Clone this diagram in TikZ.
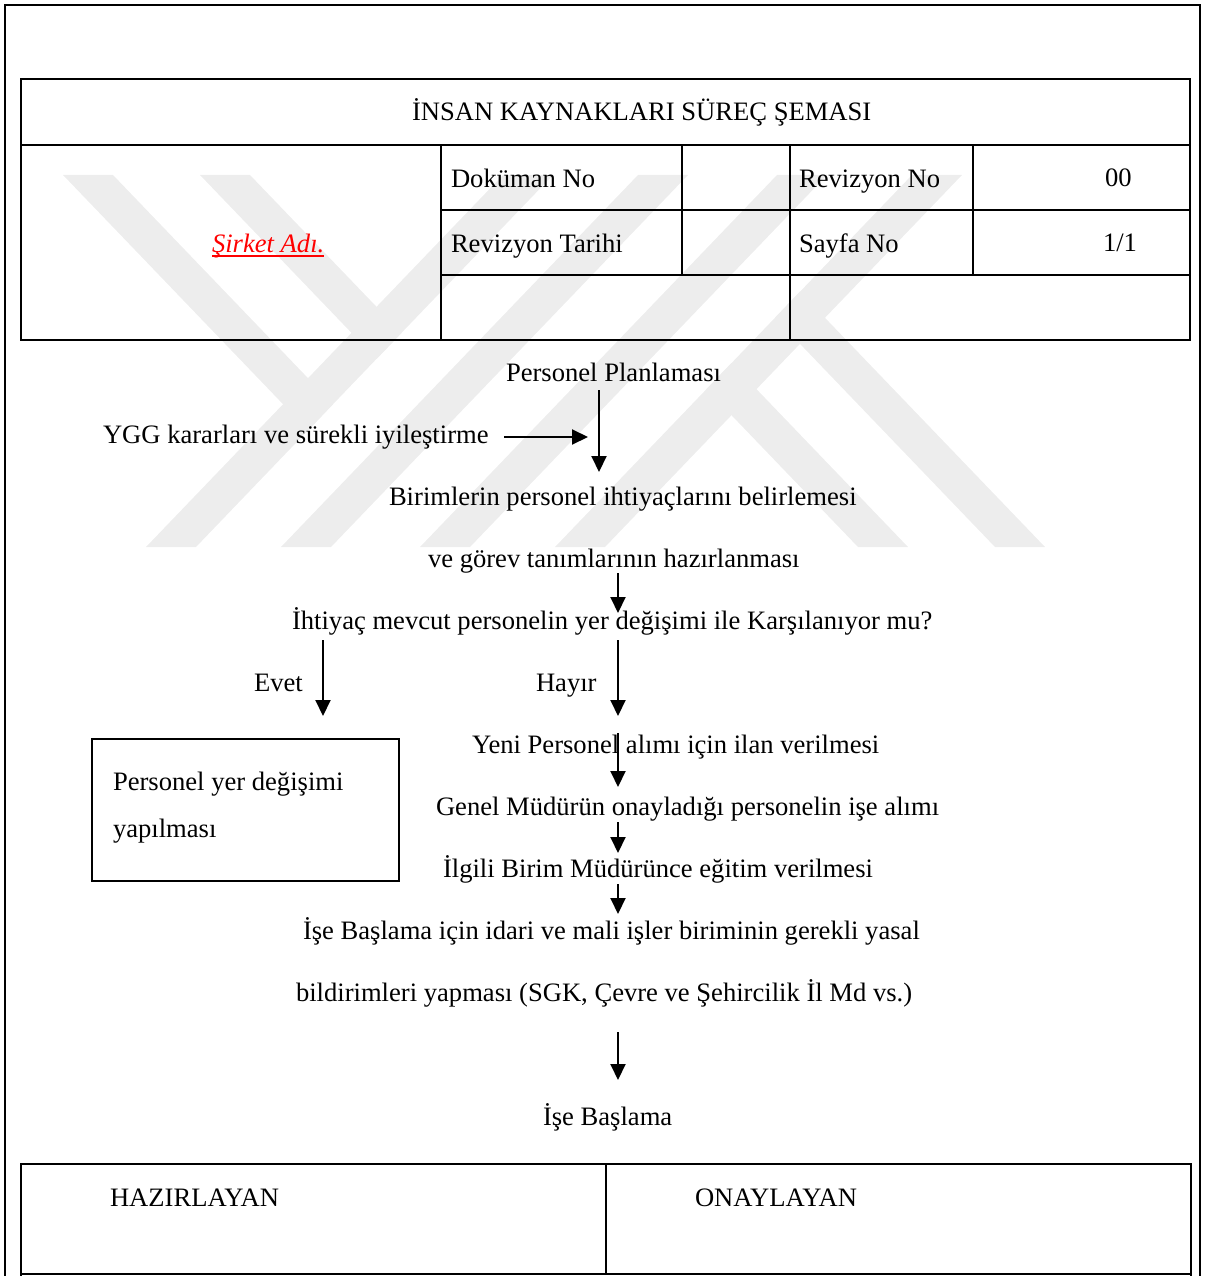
\documentclass[tikz,border=0pt]{standalone}
\usepackage{fontspec}
\setmainfont{Liberation Serif}
\usetikzlibrary{arrows.meta}
\begin{document}
\begin{tikzpicture}[x=1pt,y=-1pt,
  every node/.style={inner sep=0pt, outer sep=0pt, anchor=base west},
  txt/.style={font=\fontsize{26.6}{32}\selectfont},
  tbl/.style={line width=2.2pt},
  thin/.style={line width=1.3pt},
  arr/.style={line width=2pt, -{Triangle[width=15pt,length=16pt]}},
  wm/.style={fill=black!7, draw=none}]
\useasboundingbox (0,0) rectangle (1206,1276);

% ---- background emblem (light grey diagonal bands) ----
\fill[wm] (146,547) -- (196,547) -- (553,175) -- (503,175) -- cycle;
\fill[wm] (281,547) -- (331,547) -- (688,175) -- (638,175) -- cycle;
\fill[wm] (420,547) -- (470,547) -- (827,175) -- (777,175) -- cycle;
\fill[wm] (555,547) -- (605,547) -- (962,175) -- (912,175) -- cycle;
\fill[wm] (63,175) -- (113,175) -- (333,404.2) -- (308.1,430.3) -- cycle;
\fill[wm] (200,175) -- (250,175) -- (401.6,332.9) -- (376.5,358.9) -- cycle;
\fill[wm] (1045,547) -- (995,547) -- (775,317.8) -- (799.9,291.7) -- cycle;
\fill[wm] (908,547) -- (858,547) -- (706.4,389.1) -- (731.5,363.1) -- cycle;

% ---- page frame ----
\draw[line width=2pt] (5,1290) -- (5,5) -- (1200,5) -- (1200,1290);

% ---- header table ----
\draw[tbl] (21,79) rectangle (1190,340);
\draw[tbl] (21,145) -- (1190,145);
\draw[tbl] (441,210) -- (1190,210);
\draw[tbl] (441,275) -- (1190,275);
\draw[tbl] (441,145) -- (441,340);
\draw[tbl] (790,145) -- (790,340);
\draw[tbl] (682,145) -- (682,275);
\draw[tbl] (973,145) -- (973,275);

\node[txt] (title) at (412,121) {İNSAN KAYNAKLARI SÜREÇ ŞEMASI};
\node[txt] (dokno) at (451,187) {Doküman No};
\node[txt] (revtar) at (451,252) {Revizyon Tarihi};
\node[txt] (revno) at (799,187) {Revizyon No};
\node[txt] (sayfa) at (799,252) {Sayfa No};
\node[txt] (revval) at (1105,186) {00};
\node[txt] (sayval) at (1103,251) {1/1};
\node[txt, text=red, font=\fontsize{26.6}{32}\selectfont\itshape] (sirket) at (212,252) {Şirket Adı.};
\draw[red, line width=1.6pt] ([yshift=-4pt]sirket.base west) -- ([yshift=-4pt]sirket.base east);

% ---- flow texts ----
\node[txt] (plan) at (506,381) {Personel Planlaması};
\node[txt] (ygg) at (103,443) {YGG kararları ve sürekli iyileştirme};
\node[txt] (birim1) at (389,505) {Birimlerin personel ihtiyaçlarını belirlemesi};
\node[txt] (birim2) at (428,567) {ve görev tanımlarının hazırlanması};
\node[txt] (soru) at (292,629) {İhtiyaç mevcut personelin yer değişimi ile Karşılanıyor mu?};
\node[txt] (evet) at (254,691) {Evet};
\node[txt] (hayir) at (536,691) {Hayır};
\node[txt] (ilan) at (472,753) {Yeni Personel alımı için ilan verilmesi};
\node[txt] (alim) at (436,815) {Genel Müdürün onayladığı personelin işe alımı};
\node[txt] (egitim) at (443,877) {İlgili Birim Müdürünce eğitim verilmesi};
\node[txt] (yasal1) at (303,939) {İşe Başlama için idari ve mali işler biriminin gerekli yasal};
\node[txt] (yasal2) at (296,1001) {bildirimleri yapması (SGK, Çevre ve Şehircilik İl Md vs.)};
\node[txt] (basla) at (543,1125) {İşe Başlama};

% relocation box
\draw[thin] (92,739) rectangle (399,881);
\node[txt] (yer1) at (113,790) {Personel yer değişimi};
\node[txt] (yer2) at (113,837) {yapılması};

% ---- connector end points ----
\coordinate (h0) at (504,437);  \coordinate (h1) at (588,437);
\coordinate (v0) at (599,390);  \coordinate (v1) at (599,472);
\coordinate (g0) at (618,573);  \coordinate (g1) at (618,613);
\coordinate (e0) at (323,640);  \coordinate (e1) at (323,716);
\coordinate (n0) at (618,640);  \coordinate (n1) at (618,716);
\coordinate (i0) at (618,733);  \coordinate (i1) at (618,787);
\coordinate (a0) at (618,822);  \coordinate (a1) at (618,853);
\coordinate (b0) at (618,884);  \coordinate (b1) at (618,914);
\coordinate (s0) at (618,1032); \coordinate (s1) at (618,1080);

\draw[arr] (h0) -- (h1);
\draw[arr] (v0) -- (v1);
\draw[arr] (g0) -- (g1);
\draw[arr] (e0) -- (e1);
\draw[arr] (n0) -- (n1);
\draw[arr] (i0) -- (i1);
\draw[arr] (a0) -- (a1);
\draw[arr] (b0) -- (b1);
\draw[arr] (s0) -- (s1);

% ---- signature table ----
\draw[line width=2.4pt] (21,1290) -- (21,1164) -- (1191,1164) -- (1191,1290);
\draw[line width=2.4pt] (21,1274) -- (1191,1274);
\draw[line width=1.2pt] (606,1164) -- (606,1274);
\node[txt] (haz) at (110,1206) {HAZIRLAYAN};
\node[txt] (onay) at (695,1206) {ONAYLAYAN};
\end{tikzpicture}
\end{document}
